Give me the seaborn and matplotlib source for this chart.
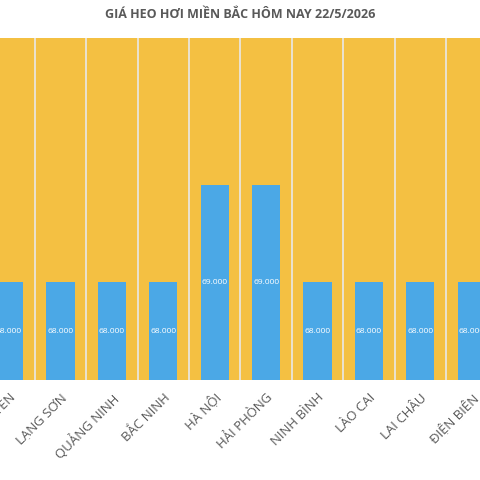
import matplotlib
matplotlib.use("Agg")
import matplotlib.pyplot as plt
import seaborn as sns
import pandas as pd

provinces = ["THÁI NGUYÊN", "LẠNG SƠN", "QUẢNG NINH", "BẮC NINH", "HÀ NỘI", "HẢI PHÒNG",
             "NINH BÌNH", "LÀO CAI", "LAI CHÂU", "ĐIỆN BIÊN", "PHÚ THỌ"]
prices = [68, 68, 68, 68, 69, 69, 68, 68, 68, 68, 68]
price_labels = ["68.000", "68.000", "68.000", "68.000", "69.000", "69.000",
                "68.000", "68.000", "68.000", "68.000", "68.000"]
title = "GIÁ HEO HƠI MIỀN BẮC HÔM NAY 22/5/2026"

sns.set_theme(style="white")
plt.rcParams['font.family'] = ['Open Sans', 'DejaVu Sans']

df = pd.DataFrame({"p": provinces, "v": prices})
fig = plt.figure(figsize=(4.8, 4.8), dpi=100)
ax = fig.add_axes([0, 1 - 380 / 480, 1, 342 / 480])
ax.set_facecolor("#F4C042")
sns.barplot(data=df, x="p", y="v", color="#4BA8E6", saturation=1, width=0.55, ax=ax,
            bottom=0, linewidth=0, edgecolor="none")
for i, (v, t) in enumerate(zip(prices, price_labels)):
    ax.text(i, (67 + v) / 2, t, ha="center", va="center", color="white", fontsize=6)
for i in range(-1, len(provinces)):
    ax.axvline(i + 0.5, color="#E8E8E8", lw=1.2, zorder=0.5)
ax.set_yticks([])
ax.set_xlabel("")
ax.set_ylabel("")
ax.set_xticks(range(len(provinces)))
ax.set_xticklabels(provinces, rotation=45, ha="right", rotation_mode="anchor",
                   color="#595959", fontsize=9.5)
ax.tick_params(axis="x", length=0, pad=8)
for s in ax.spines.values():
    s.set_visible(False)
ax.set_ylim(67, 70.5)
ax.set_xlim(-0.175, 9.16)
fig.text(0.5, 1 - 15 / 480, title, ha="center", va="center", fontsize=9,
         fontweight="bold", color="#595959")
fig.savefig("out.png", dpi=100)
